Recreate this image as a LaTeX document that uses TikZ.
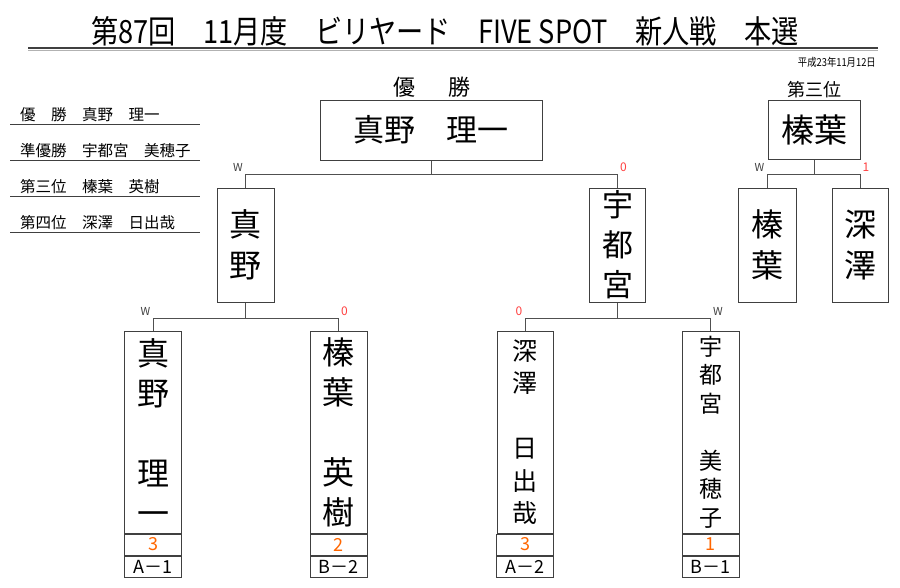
\documentclass[tikz,border=0pt]{standalone}
\usepackage{fontspec}
\setmainfont{Noto Sans CJK JP}
\newfontfamily\titlefont{Noto Sans CJK JP}[FakeStretch=0.85]
\usetikzlibrary{positioning}

\definecolor{linegray}{HTML}{505050}
\definecolor{boxgray}{HTML}{404040}
\definecolor{losered}{HTML}{FF4040}
\definecolor{scoreorange}{HTML}{FF6600}
\newcommand{\fsz}[2]{\fontsize{#1}{#2}\selectfont}

\tikzset{
  bline/.style={draw=linegray, line width=1pt},
  namebox/.style={draw=boxgray, line width=1pt, inner sep=0pt, align=center},
  scorebox/.style={draw=boxgray, line width=1pt, inner sep=0pt, minimum width=57pt, minimum height=21pt, text=scoreorange, font=\fsz{18}{18}},
  blockbox/.style={draw=boxgray, line width=1pt, inner sep=0pt, minimum width=57pt, minimum height=21pt, font=\fsz{18}{18}},
  wlab/.style={inner sep=2.5pt, text=boxgray, font=\fsz{11}{11}},
  rlab/.style={inner sep=2.5pt, text=losered, font=\fsz{12}{12}}
}

\begin{document}
\begin{tikzpicture}[x=1pt,y=-1pt]
\useasboundingbox (0,0) rectangle (900,587);

% title
\node (title) at (445,31) {\titlefont\fsz{32}{32}第87回　11月度　ビリヤード　FIVE SPOT　新人戦　本選};
\draw[draw=boxgray, line width=2pt] (28,47.5) -- (878,47.5);
\draw[draw=gray!60, line width=0.8pt] (28,50.5) -- (878,50.5);
\node[anchor=east, inner sep=0pt] (date) at (876,62) {\titlefont\fsz{11}{11}平成23年11月12日};

% results list
\foreach \t [count=\i] in {優　勝　真野　理一, 準優勝　宇都宮　美穂子, 第三位　榛葉　英樹, 第四位　深澤　日出哉}{
  \node[anchor=south west, inner sep=0pt, font=\fsz{15.5}{15.5}] (list\i) at (20,{88+36*\i-2}) {\t};
  \draw[draw=boxgray, line width=0.8pt] (10,{88+36*\i}) -- (200,{88+36*\i});
}

% final
\node[font=\fsz{22}{22}] (wtitle) at (432,87) {優\hspace{0.5em}　勝};
\node[namebox, minimum width=222pt, minimum height=60pt, font=\fsz{31}{31}] (champ) at (431,130) {真野　理一};

\node[namebox, minimum width=57pt, minimum height=114pt, font=\fsz{32}{41}] (semiL) at (245.5,245) {真\\野};
\node[namebox, minimum width=56pt, minimum height=114pt, font=\fsz{31}{40}] (semiR) at (617.5,245) {宇\\都\\宮};

% first round
\node[namebox, minimum width=57pt, minimum height=202pt, font=\fsz{32}{40}] (A) at (153,432) {真\\野\\[40pt]理\\一};
\node[namebox, minimum width=57pt, minimum height=202pt, font=\fsz{32}{40}] (B) at (338.5,432) {榛\\葉\\[40pt]英\\樹};
\node[namebox, minimum width=56pt, minimum height=202pt, font=\fsz{25}{32.5}] (C) at (525,432) {深\\澤\\[32.5pt]日\\出\\哉};
\node[namebox, minimum width=57pt, minimum height=202pt, font=\fsz{23}{28.5}] (D) at (710.5,432) {宇\\都\\宮\\[28.5pt]美\\穂\\子};

\node[scorebox, below=0pt of A] (As) {3};
\node[scorebox, below=0pt of B] (Bs) {2};
\node[scorebox, below=0pt of C] (Cs) {3};
\node[scorebox, below=0pt of D] (Ds) {1};
\node[blockbox, below=0pt of As] (Ab) {A－1};
\node[blockbox, below=0pt of Bs] (Bb) {B－2};
\node[blockbox, below=0pt of Cs] (Cb) {A－2};
\node[blockbox, below=0pt of Ds] (Db) {B－1};

% third place
\node[font=\fsz{18}{18}] (ttitle) at (814,90) {第三位};
\node[namebox, minimum width=92pt, minimum height=59pt, font=\fsz{33}{33}] (third) at (814,129.5) {榛葉};
\node[namebox, minimum width=58pt, minimum height=114pt, font=\fsz{32}{41}] (thL) at (767,245) {榛\\葉};
\node[namebox, minimum width=56pt, minimum height=114pt, font=\fsz{32}{41}] (thR) at (860,245) {深\\澤};

% brackets
\foreach \up/\l/\r/\d in {champ/semiL/semiR/14, semiL/A/B/16, semiR/C/D/16, third/thL/thR/15}{
  \draw[bline] (\up.south) -- ++(0,\d) coordinate (j\up);
  \draw[bline] (\l.north) |- (j\up) -| (\r.north);
}

\node[wlab, above left] (wF) at (semiL.north |- jchamp) {W};
\node[rlab, above right] (lF) at (semiR.north |- jchamp) {0};
\node[wlab, above left] (wL) at (A.north |- jsemiL) {W};
\node[rlab, above right] (lL) at (B.north |- jsemiL) {0};
\node[rlab, above left] (lR) at (C.north |- jsemiR) {0};
\node[wlab, above right] (wR) at (D.north |- jsemiR) {W};
\node[wlab, above left] (wT) at (thL.north |- jthird) {W};
\node[rlab, above right] (lT) at (thR.north |- jthird) {1};

\end{tikzpicture}
\end{document}
